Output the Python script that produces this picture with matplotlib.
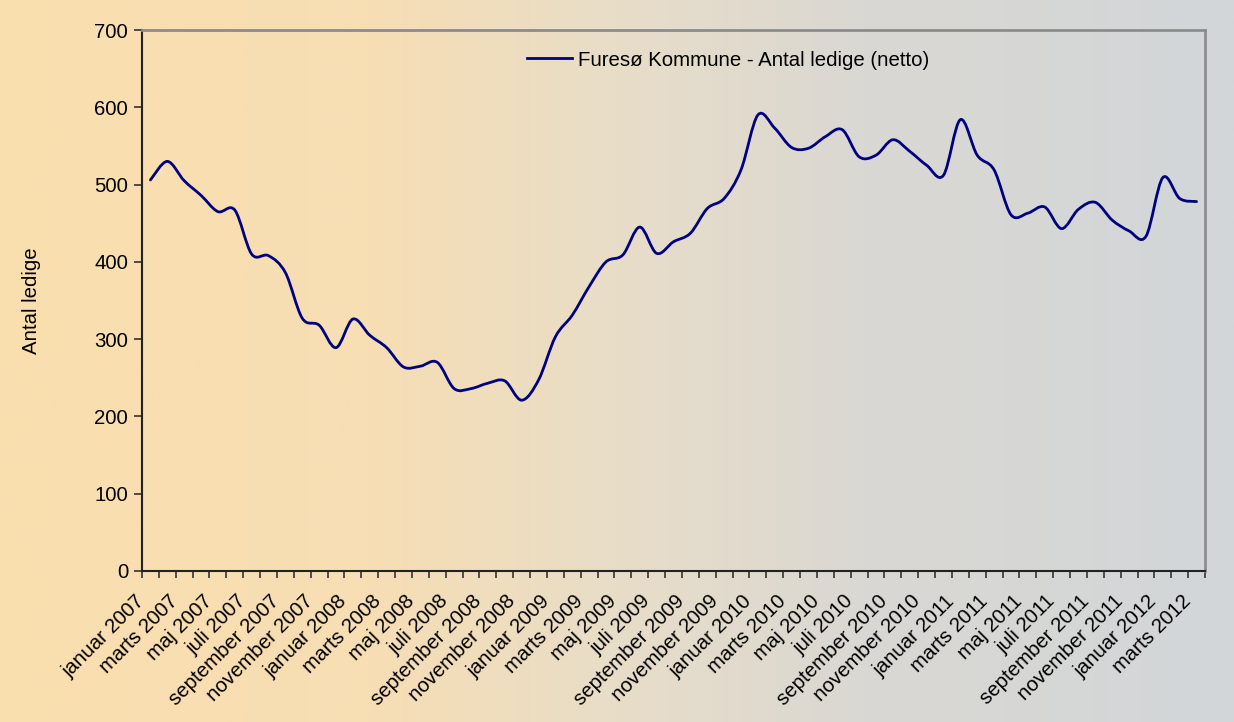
import numpy as np
import matplotlib.pyplot as plt
from matplotlib.path import Path
from matplotlib.patches import PathPatch
from matplotlib.lines import Line2D
from matplotlib.transforms import ScaledTranslation

plt.rcParams['font.family'] = ['Liberation Sans', 'DejaVu Sans']

# data: Furesø Kommune, antal ledige (netto), januar 2007 - marts 2012
maaneder = ['januar', 'februar', 'marts', 'april', 'maj', 'juni', 'juli',
            'august', 'september', 'oktober', 'november', 'december']
aar = [2007, 2008, 2009, 2010, 2011, 2012]
kategorier = [f'{m} {a}' for a in aar for m in maaneder][:63]

ledige = [506, 530, 505, 486, 465, 467, 410, 408, 386, 327, 318, 289,
          326, 305, 289, 264, 265, 270, 236, 236, 243, 246, 221, 247,
          303, 331, 368, 400, 409, 445, 411, 426, 437, 469, 482, 519,
          590, 573, 548, 547, 562, 571, 536, 538, 558, 543, 525, 512,
          584, 538, 519, 461, 463, 471, 443, 468, 477, 454, 440, 433,
          509, 482, 478]

serie_navn = 'Furesø Kommune - Antal ledige (netto)'
fs = 14.7
linjefarve = '#000080'


def glat_kurve(xs, ys):
    # Bezier-segmenter som Excels "udjævnet linje"
    p = np.column_stack([xs, ys]).astype(float)
    n = len(p)
    verts = [p[0]]
    codes = [Path.MOVETO]
    for i in range(n - 1):
        p0 = p[i - 1] if i > 0 else p[i]
        p3 = p[i + 2] if i + 2 < n else p[i + 1]
        c1 = p[i] + (p[i + 1] - p0) / 6.0
        c2 = p[i + 1] - (p3 - p[i]) / 6.0
        verts += [c1, c2, p[i + 1]]
        codes += [Path.CURVE4] * 3
    return Path(verts, codes)


fig = plt.figure(figsize=(12.34, 7.22), dpi=100)

# baggrund med farveovergang
bg = fig.add_axes([0, 0, 1, 1], zorder=-10)
stop = [0.0, 0.30, 0.50, 0.70, 1.0]
farver = np.array([[250, 222, 174], [247, 222, 180], [232, 221, 200],
                   [218, 216, 211], [210, 214, 217]]) / 255.0
t = np.linspace(0, 1, 600)
grad = np.stack([np.interp(t, stop, farver[:, k]) for k in range(3)], axis=-1)
bg.imshow(grad[np.newaxis, :, :], aspect='auto', extent=[0, 1, 0, 1])
bg.set_axis_off()

ax = fig.add_axes([142 / 1234, 151 / 722, 1063 / 1234, 541 / 722])
ax.set_facecolor('none')

x = np.arange(len(ledige))
ax.add_patch(PathPatch(glat_kurve(x, ledige), facecolor='none',
                       edgecolor=linjefarve, lw=2.0, capstyle='round'))

ax.set_xlim(-0.5, len(ledige) - 0.5)
ax.set_ylim(0, 700)
ax.set_yticks(np.arange(0, 701, 100))
ax.set_ylabel('Antal ledige', fontsize=fs, labelpad=38)

ax.set_xticks(np.arange(-0.5, len(ledige), 1.0))
ax.set_xticklabels([])
ax.set_xticks(x[::2], minor=True)
ax.set_xticklabels(kategorier[::2], minor=True, rotation=45, ha='right',
                   va='center', rotation_mode='anchor', fontsize=fs)
ax.tick_params(axis='x', which='minor', length=0, pad=18)
ax.tick_params(axis='x', which='major', length=5, width=1.2, color='#333333')
ax.tick_params(axis='y', length=6, width=1.2, color='#333333',
               labelsize=fs, pad=4)

# flyt etiketterne lidt til venstre som i Excel
skub = ScaledTranslation(-9 / 100, -2 / 100, fig.dpi_scale_trans)
for lbl in ax.get_xticklabels(minor=True):
    lbl.set_transform(lbl.get_transform() + skub)

for side in ['left', 'bottom']:
    ax.spines[side].set_color('#222222')
    ax.spines[side].set_linewidth(1.5)
for side in ['top', 'right']:
    ax.spines[side].set_color('#8c8c8c')
    ax.spines[side].set_linewidth(2.0)

handle = Line2D([], [], color=linjefarve, lw=2.0)
ax.legend([handle], [serie_navn], loc='center left',
          bbox_to_anchor=(0.362, 0.9445), frameon=False, fontsize=fs,
          handlelength=2.2, handletextpad=0.3, borderpad=0,
          borderaxespad=0)

fig.savefig('out.png', dpi=100)
